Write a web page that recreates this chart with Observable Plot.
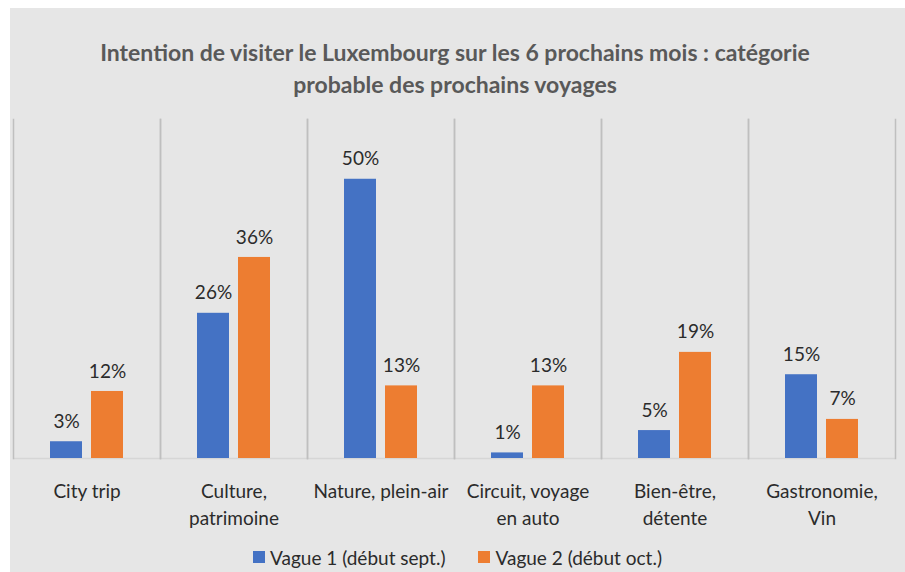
<!DOCTYPE html>
<html>
<head>
<meta charset="utf-8">
<script src="https://cdn.jsdelivr.net/npm/d3@7"></script>
<script src="https://cdn.jsdelivr.net/npm/@observablehq/plot@0.6"></script>
<style>
  html, body { margin: 0; padding: 0; background: #ffffff; }
  #chart {
    position: absolute; left: 10px; top: 8px; width: 895px; height: 564px;
    background: #e6e6e6; font-family: Lato, sans-serif; overflow: hidden;
  }
  #title {
    position: absolute; left: 0; top: 28px; width: 890px; text-align: center;
    font-size: 23px; font-weight: bold; line-height: 32px; color: #595959;
  }
  #plot { position: absolute; left: 0; top: 102px; }
  #legend {
    position: absolute; left: 0; top: 537px; width: 895px; height: 24px;
    display: flex; justify-content: center; align-items: center; gap: 33px;
    font-size: 19px; color: #2b2b2b;
  }
  .item { display: flex; align-items: center; gap: 5px; }
  .sw { width: 12px; height: 12px; display: inline-block; }
</style>
</head>
<body>
<div id="chart">
  <div id="title">Intention de visiter le Luxembourg sur les 6 prochains mois : catégorie<br>probable des prochains voyages</div>
  <div id="plot"></div>
  <div id="legend"></div>
</div>
<script>
const categories = ["City trip", "Culture,\npatrimoine", "Nature, plein-air", "Circuit, voyage\nen auto", "Bien-être,\ndétente", "Gastronomie,\nVin"];
const series = ["Vague 1 (début sept.)", "Vague 2 (début oct.)"];
const vague1 = [3, 26, 50, 1, 5, 15];
const vague2 = [12, 36, 13, 13, 19, 7];
const colors = ["#4472C4", "#ED7D31"];

const data = categories.flatMap((c, i) => [
  {cat: c, series: series[0], value: vague1[i]},
  {cat: c, series: series[1], value: vague2[i]}
]);

const chart = Plot.plot({
  width: 895,
  height: 418,
  marginTop: 9,
  marginBottom: 70,
  marginLeft: 1,
  marginRight: 8,
  style: {fontFamily: "Lato, sans-serif", background: "transparent", color: "#2b2b2b"},
  fx: {domain: categories, padding: 0, label: null},
  x: {domain: series, axis: null, paddingInner: 0.214, paddingOuter: 0.865},
  y: {domain: [0, 60.7], axis: null},
  color: {domain: series, range: colors},
  marks: [
    Plot.ruleY([0], {stroke: "#d6d6d6", strokeWidth: 1.5}),
    Plot.frame({anchor: "left", stroke: "#bfbfbf", strokeWidth: 1.5}),
    Plot.frame({anchor: "right", stroke: "#bfbfbf", strokeWidth: 1.5}),
    Plot.barY(data, {fx: "cat", x: "series", y: "value", fill: "series"}),
    Plot.text(data, {fx: "cat", x: "series", y: "value", text: d => d.value + "%", dy: -20, fontSize: 19, fill: "#2b2b2b"}),
    Plot.axisFx({anchor: "bottom", tickSize: 0, tickPadding: 21, fontSize: 19, lineHeight: 1.4, label: null, fill: "#2b2b2b"})
  ]
});
document.getElementById("plot").appendChild(chart);

const legend = document.getElementById("legend");
series.forEach((s, i) => {
  const item = document.createElement("div");
  item.className = "item";
  const sw = document.createElement("span");
  sw.className = "sw";
  sw.style.background = colors[i];
  const t = document.createElement("span");
  t.textContent = s;
  item.appendChild(sw);
  item.appendChild(t);
  legend.appendChild(item);
});
</script>
</body>
</html>
